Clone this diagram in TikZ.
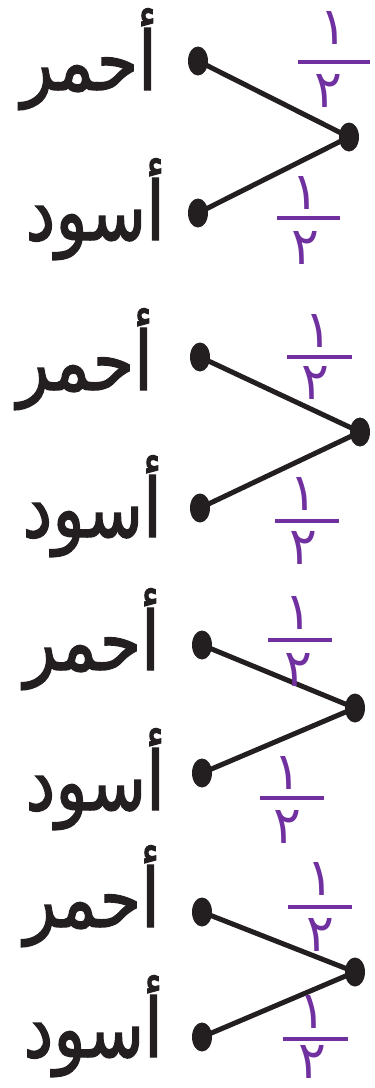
\documentclass[tikz,border=0pt]{standalone}
\usepackage{fontspec}
\usepackage{graphicx}
\newfontfamily\arabicfont[Script=Arabic,FakeBold=1.6]{DejaVu Sans}
\newfontfamily\arabicnum[Script=Arabic]{DejaVu Sans}
\TeXXeTstate=1
\usetikzlibrary{shapes.geometric}
\definecolor{fracpurple}{HTML}{7030A0}
\definecolor{inkblack}{HTML}{231F20}
\newcommand{\arlabel}[1]{\scalebox{1}[1.22]{\arabicfont\fontsize{67}{67}\selectfont\beginR #1\endR}}
\tikzset{
  dot/.style={ellipse,fill=inkblack,inner sep=0,minimum width=20pt,minimum height=29pt},
  edge/.style={draw=inkblack,line width=5pt},
  lbl/.style={text=inkblack,inner sep=0,anchor=base east},
  numr/.style={text=fracpurple,font=\arabicnum\fontsize{52}{52}\selectfont,inner sep=0},
  bar/.style={draw=fracpurple,line width=4.5pt}
}
\begin{document}
\begin{tikzpicture}[x=1pt,y=-1pt]
\useasboundingbox (0,0) rectangle (375,1088);
% ---------- tree 1
\node[dot] (a1) at (198,61) {};
\node[dot] (r1) at (349,137) {};
\node[dot] (b1) at (198,213) {};
\draw[edge] (a1.center) -- (r1.center);
\draw[edge] (b1.center) -- (r1.center);
\node[lbl] (ta1) at (157,90) {\arlabel{أحمر}};
\node[lbl] (tb1) at (165,240) {\arlabel{أسود}};
\node[numr] (n1t) at (333,28) {١};
\coordinate (p1tl) at (298,62); \coordinate (p1tr) at (370,62);
\draw[bar] (p1tl) -- (p1tr);
\node[numr] (d1t) at (328,91) {٢};
\node[numr] (n1b) at (305,193) {١};
\coordinate (p1bl) at (277,218); \coordinate (p1br) at (340,218);
\draw[bar] (p1bl) -- (p1br);
\node[numr] (d1b) at (305,248) {٢};
% ---------- tree 2
\node[dot] (a2) at (200,357) {};
\node[dot] (r2) at (360,432) {};
\node[dot] (b2) at (200,508) {};
\draw[edge] (a2.center) -- (r2.center);
\draw[edge] (b2.center) -- (r2.center);
\node[lbl] (ta2) at (153,390) {\arlabel{أحمر}};
\node[lbl] (tb2) at (162,537) {\arlabel{أسود}};
\node[numr] (n2t) at (318,331) {١};
\coordinate (p2tl) at (287,357); \coordinate (p2tr) at (352,357);
\draw[bar] (p2tl) -- (p2tr);
\node[numr] (d2t) at (315,383) {٢};
\node[numr] (n2b) at (303,494) {١};
\coordinate (p2bl) at (275,521); \coordinate (p2br) at (339,521);
\draw[bar] (p2bl) -- (p2br);
\node[numr] (d2b) at (303,548) {٢};
% ---------- tree 3
\node[dot] (a3) at (202,645) {};
\node[dot] (r3) at (355,708) {};
\node[dot] (b3) at (202,773) {};
\draw[edge] (a3.center) -- (r3.center);
\draw[edge] (b3.center) -- (r3.center);
\node[lbl] (ta3) at (160,670) {\arlabel{أحمر}};
\node[lbl] (tb3) at (165,810) {\arlabel{أسود}};
\node[numr] (n3t) at (298,613) {١};
\coordinate (p3tl) at (268,640); \coordinate (p3tr) at (332,640);
\draw[bar] (p3tl) -- (p3tr);
\node[numr] (d3t) at (298,670) {٢};
\node[numr] (n3b) at (287,773) {١};
\coordinate (p3bl) at (260,798); \coordinate (p3br) at (324,798);
\draw[bar] (p3bl) -- (p3br);
\node[numr] (d3b) at (287,827) {٢};
% ---------- tree 4
\node[dot] (a4) at (202,912) {};
\node[dot] (r4) at (355,972) {};
\node[dot] (b4) at (202,1037) {};
\draw[edge] (a4.center) -- (r4.center);
\draw[edge] (b4.center) -- (r4.center);
\node[lbl] (ta4) at (160,927) {\arlabel{أحمر}};
\node[lbl] (tb4) at (163,1057) {\arlabel{أسود}};
\node[numr] (n4t) at (320,879) {١};
\coordinate (p4tl) at (288,907); \coordinate (p4tr) at (352,907);
\draw[bar] (p4tl) -- (p4tr);
\node[numr] (d4t) at (320,935) {٢};
\node[numr] (n4b) at (312,1012) {١};
\coordinate (p4bl) at (283,1039); \coordinate (p4br) at (348,1039);
\draw[bar] (p4bl) -- (p4br);
\node[numr] (d4b) at (312,1062) {٢};
\end{tikzpicture}
\end{document}
